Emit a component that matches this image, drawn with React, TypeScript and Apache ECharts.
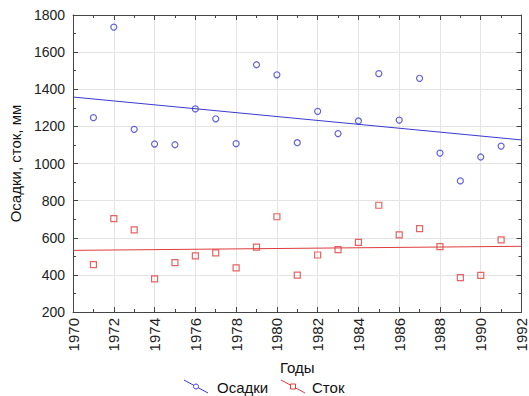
import React, { useEffect, useRef } from "react";
import * as echarts from "echarts";

const years = [1971, 1972, 1973, 1974, 1975, 1976, 1977, 1978, 1979, 1980, 1981, 1982, 1983, 1984, 1985, 1986, 1987, 1988, 1989, 1990, 1991];
const precipitation = [1247, 1735, 1184, 1105, 1101, 1294, 1241, 1107, 1532, 1478, 1112, 1281, 1161, 1229, 1484, 1234, 1459, 1056, 906, 1035, 1094];
const runoff = [455, 703, 642, 378, 466, 502, 519, 438, 550, 713, 399, 507, 536, 575, 775, 615, 649, 552, 385, 397, 589];
const trendYears = [1970, 1992];
const precipTrend = [1358, 1127];
const runoffTrend = [532, 554];
const seriesNames = ["Осадки", "Сток"];

const BLUE = "#3a3ad0";
const RED = "#e03c3c";
const FONT = "Liberation Sans, Arial, sans-serif";

export default function App() {
  const ref = useRef<HTMLDivElement>(null);
  useEffect(() => {
    if (!ref.current) return;
    const chart = echarts.init(ref.current, undefined, { renderer: "svg" });
    const tickCommon = { inside: true, length: 5, lineStyle: { color: "#444" } };
    const minorCommon = { show: true, splitNumber: 2, length: 3, lineStyle: { color: "#444" } };
    const plain = (v: number) => String(v);
    chart.setOption({
      animation: false,
      textStyle: { fontFamily: FONT },
      grid: { left: 73, right: 6, top: 15, bottom: 84 },
      xAxis: [
        {
          type: "value", min: 1970, max: 1992, interval: 2,
          name: "Годы", nameLocation: "middle", nameGap: 48,
          nameTextStyle: { fontSize: 15, color: "#111", fontFamily: FONT },
          axisLine: { show: true, lineStyle: { color: "#444" } },
          axisTick: tickCommon, minorTick: minorCommon,
          axisLabel: { rotate: 90, fontSize: 15, color: "#222", margin: 6, fontFamily: FONT, formatter: plain },
          splitLine: { show: true, lineStyle: { color: "#e4e4e4" } },
        },
        {
          type: "value", min: 1970, max: 1992, interval: 2, position: "top",
          axisLine: { show: true, lineStyle: { color: "#444" } },
          axisTick: tickCommon, minorTick: minorCommon,
          axisLabel: { show: false }, splitLine: { show: false },
        },
      ],
      yAxis: [
        {
          type: "value", min: 200, max: 1800, interval: 200,
          name: "Осадки, сток, мм", nameLocation: "middle", nameGap: 47,
          nameTextStyle: { fontSize: 15, color: "#111", fontFamily: FONT },
          axisLine: { show: true, lineStyle: { color: "#444" } },
          axisTick: tickCommon, minorTick: minorCommon,
          axisLabel: { fontSize: 14, color: "#222", margin: 8, fontFamily: FONT, formatter: plain },
          splitLine: { show: true, lineStyle: { color: "#e4e4e4" } },
        },
        {
          type: "value", min: 200, max: 1800, interval: 200, position: "right",
          axisLine: { show: true, lineStyle: { color: "#444" } },
          axisTick: tickCommon, minorTick: minorCommon,
          axisLabel: { show: false }, splitLine: { show: false },
        },
      ],
      series: [
        {
          name: seriesNames[0], type: "scatter", symbol: "circle", symbolSize: 6,
          itemStyle: { color: "transparent", borderColor: BLUE, borderWidth: 1.2 },
          data: years.map((y, i) => [y, precipitation[i]]),
        },
        {
          name: seriesNames[1], type: "scatter", symbol: "rect", symbolSize: 6,
          itemStyle: { color: "transparent", borderColor: RED, borderWidth: 1.2 },
          data: years.map((y, i) => [y, runoff[i]]),
        },
        {
          type: "line", symbol: "none", lineStyle: { color: BLUE, width: 1 },
          data: trendYears.map((y, i) => [y, precipTrend[i]]), silent: true,
        },
        {
          type: "line", symbol: "none", lineStyle: { color: RED, width: 1 },
          data: trendYears.map((y, i) => [y, runoffTrend[i]]), silent: true,
        },
      ],
      graphic: [
        { type: "line", shape: { x1: 184, y1: 380, x2: 208, y2: 393 }, style: { stroke: BLUE, lineWidth: 1 } },
        { type: "circle", shape: { cx: 196, cy: 386.5, r: 2.5 }, style: { fill: "#fff", stroke: BLUE, lineWidth: 1 } },
        { type: "text", x: 217, y: 387, style: { text: seriesNames[0], fontSize: 15, fill: "#111", fontFamily: FONT, verticalAlign: "middle" } },
        { type: "line", shape: { x1: 281, y1: 380, x2: 305, y2: 393 }, style: { stroke: RED, lineWidth: 1 } },
        { type: "rect", shape: { x: 290.5, y: 384, width: 5, height: 5 }, style: { fill: "#fff", stroke: RED, lineWidth: 1 } },
        { type: "text", x: 312, y: 387, style: { text: seriesNames[1], fontSize: 15, fill: "#111", fontFamily: FONT, verticalAlign: "middle" } },
      ],
    });
    return () => chart.dispose();
  }, []);
  return <div ref={ref} style={{ width: 529, height: 396, position: "absolute", left: 0, top: 0, background: "#fff" }} />;
}
